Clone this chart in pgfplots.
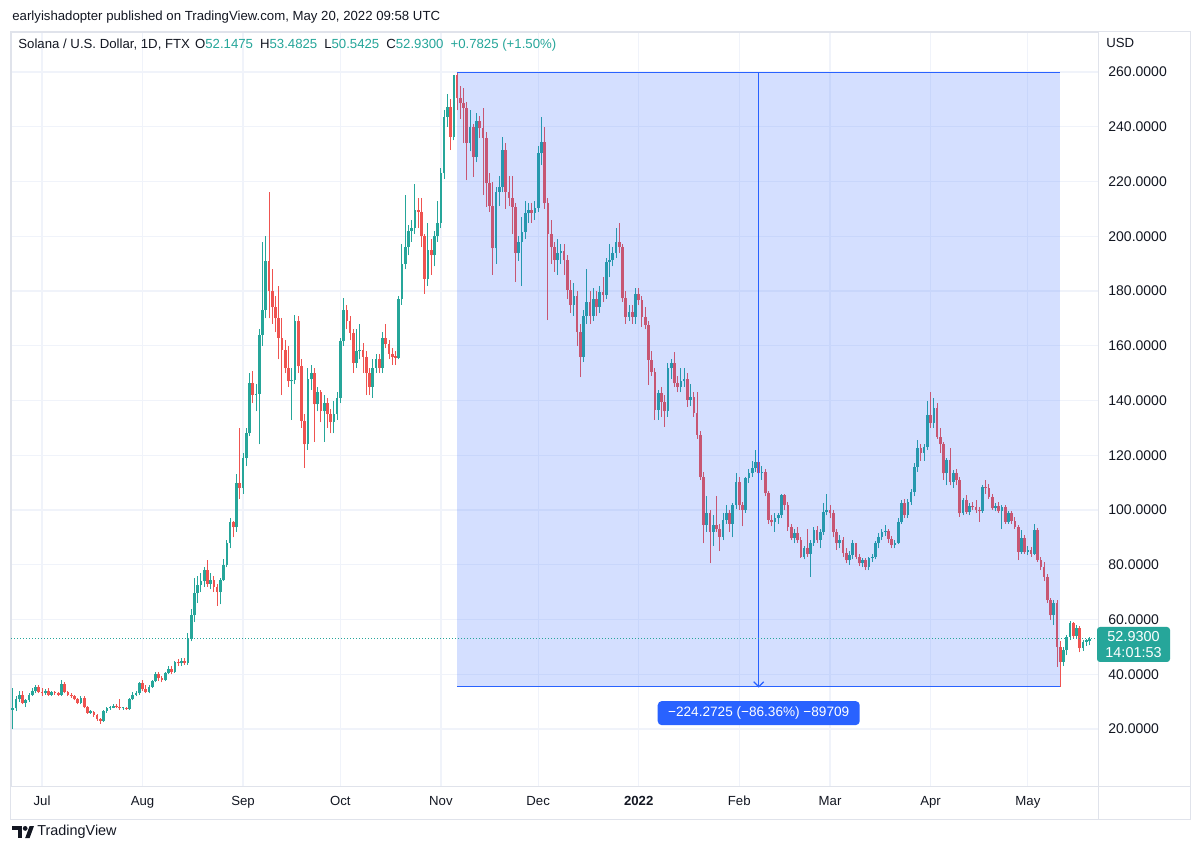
\documentclass[border=0pt]{standalone}
\usepackage{fontspec}
\setmainfont{Liberation Sans}
\usepackage{pgfplots}
\pgfplotsset{compat=1.18}
\usepackage{pgfplotstable}
\definecolor{upc}{HTML}{26A69A}
\definecolor{dnc}{HTML}{EF5350}
\definecolor{tvblue}{HTML}{2962FF}
\definecolor{gridc}{HTML}{F0F3FA}
\definecolor{borderc}{HTML}{E0E3EB}
\definecolor{txt}{HTML}{131722}

\pgfplotstableread{
d o h l c
-9 27 35 20 27.5
-8 27.5 32 26.5 31
-7 31 34 30 32.5
-6 32.5 34 29 29.5
-5 29.5 31 28 30.5
-4 30.5 33 30 32.5
-3 32.5 35 32 34
-2 34 36 33 35.5
-1 35.5 36 33 33.7
0 33.7 35 32 33
1 33 34.5 32.5 34
2 34 35 32 32.5
3 32.5 34 32 33.5
4 33.5 34 32.5 33
5 33 33.5 32 32.5
6 32.5 38 32 36.5
7 36.5 37 33 33.5
8 33.5 34 32 32.5
9 32.5 33 31.5 32
10 32 32.5 30.5 30.8
11 30.8 31.5 29 29.5
12 29.5 32 29 31.5
13 31.5 32 27.5 28
14 28 28.5 25.5 26
15 26 27 25.5 26.3
16 26.3 26.5 24.5 25
17 25 25.5 23 23.5
18 23.5 24 22 23
19 23 27 22.5 26.5
20 26.5 28 26 27.5
21 27.5 28.5 27 27.8
22 27.8 29 27.5 28.2
23 28.2 29 27.5 28
24 28 31 27 27.5
25 27.5 28 27 27.6
26 27.6 28 27 27.3
27 27.3 31.5 27 31
28 31 33.5 30.5 32.5
29 32.5 34 32 33
30 33 37 32.5 36.7
31 36.7 38 34 34.5
32 34.5 36 33 33.5
33 33.5 36 33 35.5
34 35.5 38 35 37.5
35 37.5 41 37 40
36 40 41 37.5 38.5
37 38.5 39.5 37 38
38 38 41 37.5 40.5
39 40.5 43 40 42
40 42 43 40 41
41 41 45 40.5 44.5
42 44.5 45.5 43 44
43 44 46 43 44.8
44 44.8 46 43.5 44
45 44 55 43.5 53
46 53 64 52 61.5
47 61.5 75 59 69.5
48 69.5 76 66 72.5
49 72.5 77 70 74
50 74 79 72 78
51 78 81.6 72 73
52 73 77 71 74.5
53 74.5 76 70 72
54 72 73 65 70
55 70 75 65.5 74.5
56 74.5 82 74 80
57 80 89 79 88
58 88 97 86 95.5
59 95.5 96 90 93.7
60 93.7 113 92 110
61 110 130 104 108
62 108 121 106 119
63 119 130 116 128
64 128 150 127 146.5
65 146.5 150.7 139 142
66 142 146 136 142.5
67 142.5 166 124 164
68 164 198 160 173
69 173 200 170 191
70 191 216 170 180
71 180 188 168 174
72 174 178 165 170
73 170 182 155 163
74 163 170 142 158.6
75 158.6 162 150 152
76 152 160 145 147
77 147 152 133 147.5
78 147.5 171.4 146 169
79 169 171 150 152.6
80 152.6 155 130 132.6
81 132.6 135 115.5 124
82 124 152 122 147.7
83 147.7 153 144 150
84 150 152 125 138.6
85 138.6 145 136 143
86 143 144 132 136
87 136 142 125 139
88 139 141 130 135
89 135 137 128 132
90 132 140 128 135
91 135 143 133 141
92 141 163 139 161.7
93 161.7 177.5 160 173
94 173 175 166 169
95 169 171 162 164.7
96 164.7 166 150 153.8
97 153.8 166 152 158
98 158 168 155 158.5
99 158.5 161 150 156
100 156 158 142 150
101 150 152 142 145
102 145 155 141 152
103 152 157 150 155
104 155 157 150 152
105 152 165 150 162.9
106 162.9 168 159 160.5
107 160.5 162 155 157
108 157 159 153 156
109 156 158 153 155.6
110 155.6 178 155 177
111 177 197 175 190
112 190 215 188 196
113 196 204 193 202
114 202 206 198 203
115 203 219 201 209.7
116 209.7 214 203 209
117 209 214 196 200
118 200 201 179 184.5
119 184.5 205 182 195
120 195 199 186 193
121 193 202 189 200
122 200 213 198 204.7
123 204.7 225 203 223
124 223 246 221 243.7
125 243.7 252 240 247.3
126 247.3 250 231.5 236.4
127 236.4 259 235 258.9
128 258.9 259.7 246 250.4
129 250.4 255 243 248.5
130 248.5 254 234 247
131 247 249 220.5 234
132 234 246 231 240
133 240 241 221.8 229
134 229 245 227 242
135 242 244 236 239.4
136 239.4 247 215 236
137 236 238 210.8 219.3
138 219.3 223 209 211
139 211 220 186 195.6
140 195.6 218 190 216.3
141 216.3 222 211 218.1
142 218.1 236.4 216 231.5
143 231.5 234 210 216.3
144 216.3 222 211 214
145 214 222 201 210.8
146 210.8 212 183.4 193.8
147 193.8 200 191 197.8
148 197.8 207 182 201.7
149 201.7 213 199 208.4
150 208.4 212 205 209.5
151 209.5 212 205 208.5
152 208.5 213 206 210.5
153 210.5 233 209 230.3
154 230.3 243.7 226 234.5
155 234.5 240 210 212
156 212 214 169.4 201
157 201 206 190 196
158 196 198 187 191.3
159 191.3 199 186 194
160 194 197 190 194.5
161 194.5 197 186 191.3
162 191.3 193 177 180.4
163 180.4 184 172 175
164 175 183 171 178
165 178 180 160 165
166 165 168 148.5 156
167 156 173 154 171
168 171 188 168 176
169 176 180 168 171
170 171 181 169 177
171 177 180 171 174.3
172 174.3 182 172 179.8
173 179.8 185 176 178.5
174 178.5 192 177 190.7
175 190.7 197 185 191.2
176 191.2 196 189 193.8
177 193.8 203 192 198
178 198 205 194 196
179 196 197 176 177.3
180 177.3 180 168 170.6
181 170.6 175 169 172.5
182 172.5 175 168 170.6
183 170.6 181 168 179
184 179 181 175 176.7
185 176.7 178 167 170.6
186 170.6 174 166 167.6
187 167.6 169 145.7 154.8
188 154.8 158 149 150.5
189 150.5 152 132.9 136.5
190 136.5 144 133 142.6
191 142.6 145 134 139.5
192 139.5 142 130.4 136
193 136 153.6 134 151.7
194 151.7 155 148 153.6
195 153.6 157.8 145 146.3
196 146.3 149 143 145
197 145 152 143 147
198 147 152 145 148
199 148 150 137.7 140.2
200 140.2 146 138 141.4
201 141.4 143 134 135.3
202 135.3 143 126 127.4
203 127.4 129 111 112.2
204 112.2 114 87.8 94.5
205 94.5 105 92 99
206 99 100 80.5 92
207 92 98 87 94.5
208 94.5 105 92 93
209 93 95 85 90.3
210 90.3 98.8 89 96.4
211 96.4 102 95 98.8
212 98.8 100 92 95
213 95 102.5 90 101.8
214 101.8 113.4 100.5 110.4
215 110.4 112 100 101.8
216 101.8 103 94 100
217 100 112 99 111.6
218 111.6 115 110 113.4
219 113.4 118 112 115.2
220 115.2 121.9 114 117.6
221 117.6 119 110 113.4
222 113.4 116 111 114
223 114 115 105 106.1
224 106.1 107 95 96.4
225 96.4 98 94 95.5
226 95.5 99 92 97
227 97 99 95 98
228 98 106 97 105.5
229 105.5 106 100 101.8
230 101.8 103 92.5 93.9
231 93.9 95 89 89.6
232 89.6 93 87.8 91.5
233 91.5 93.9 88 89
234 89 90 82.5 83
235 83 87 82 86
236 86 93 83 84
237 84 89 75.6 87.8
238 87.8 93.9 87 92.7
239 92.7 94 88 89
240 89 93 86 92
241 92 102.4 91 99.4
242 99.4 106 98 100
243 100 102 97 98.8
244 98.8 100 90 92
245 92 93 85.4 87.8
246 87.8 91 86 89
247 89 90 83 84.2
248 84.2 86 80.5 81.7
249 81.7 85 80 83.5
250 83.5 89 82 87.8
251 87.8 88 82 83
252 83 84 79.5 80.5
253 80.5 82.5 79 81.7
254 81.7 82.5 78 79.3
255 79.3 83 78 82.4
256 82.4 84 81 82.9
257 82.9 88.5 82 87.8
258 87.8 91.5 86 90.3
259 90.3 93 89 92
260 92 94.5 90.5 92.5
261 92.5 93 88 89.5
262 89.5 90.5 86 87.2
263 87.2 89 86 88
264 88 97 87.5 95.7
265 95.7 103.6 95 102.4
266 102.4 104 97 98.2
267 98.2 104 97 103
268 103 107.5 102 106.7
269 106.7 117 105 115.8
270 115.8 125.5 114 122.5
271 122.5 124 118 121
272 121 124 118 123
273 123 140 122 134.7
274 134.7 143.2 130 131.6
275 131.6 141 130 137.1
276 137.1 139 126 126.8
277 126.8 130 121 124
278 124 125 111 113.4
279 113.4 119 109 118.3
280 118.3 122.5 109 110.3
281 110.3 114.5 108 113.4
282 113.4 115 109 111
283 111 112 97.5 98.8
284 98.8 104.5 98 103.6
285 103.6 105.5 98.5 99.4
286 99.4 102.5 98 101.5
287 101.5 103 100 101
288 101 103.6 99 100
289 100 101 95.7 99.5
290 99.5 109 99 108.5
291 108.5 111 106 108
292 108 109.5 104 104.9
293 104.9 106 100 100.6
294 100.6 102.5 99.5 101.5
295 101.5 103 99 99.5
296 99.5 102 93 101.2
297 101.2 102 95 95.7
298 95.7 99.5 95 98.8
299 98.8 99.5 95 96
300 96 97.5 93 93.9
301 93.9 94.5 81.7 84.8
302 84.8 92.7 84 89.6
303 89.6 91 84 84.8
304 84.8 87 83.5 85.5
305 85.5 86.5 83 84
306 84 95 83.5 92.7
307 92.7 93.5 81 81.7
308 81.7 83 78 79.3
309 79.3 81 74 75.6
310 75.6 76.5 66 67.2
311 67.2 68 60 61.6
312 61.6 67 58 66
313 66 67 42.8 50.1
314 50.1 52 35.4 44.6
315 44.6 50 43 48.9
316 48.9 54.5 47 53.7
317 53.7 59.5 52.5 58.6
318 58.6 59 53 54
319 54 58 53 56.8
320 56.8 57.5 48 49.5
321 49.5 52.5 48.5 51.9
322 51.9 53 50.5 52.15
323 52.1475 53.4825 50.5425 52.93
}\sol

\begin{document}
\begin{tikzpicture}
\path[use as bounding box, fill=white] (0,0) rectangle (600pt,426pt);
\draw[borderc, line width=0.5pt] (5pt,410pt) rectangle (595pt,16.5pt);
\draw[borderc, line width=0.5pt] (549pt,410pt) -- (549pt,16.5pt);
\draw[borderc, line width=0.5pt] (5pt,33pt) -- (595pt,33pt);
\begin{axis}[
  at={(5.5pt,33pt)}, anchor=south west, scale only axis,
  width=543.5pt, height=376.5pt,
  xmin=-9.56, xmax=325.62, ymin=-0.82, ymax=274.25,
  axis line style={draw=borderc, line width=0.5pt},
  xtick={0,31,62,92,123,153,184,215,243,274,304},
  xticklabels={Jul,Aug,Sep,Oct,Nov,Dec,\textbf{2022},Feb,Mar,Apr,May},
  ytick={20,40,...,260},
  yticklabel pos=right,
  yticklabel={\pgfmathprintnumber[fixed,fixed zerofill,precision=4]{\tick}},
  /pgf/number format/assume math mode=true,
  major tick length=0pt,
  grid=major, major grid style={draw=gridc, line width=0.6pt},
  tick label style={font=\fontsize{6.6}{8}\selectfont, text=txt},
  xticklabel style={anchor=base, yshift=-9.5pt, inner sep=0pt},
  yticklabel style={anchor=west, inner sep=0pt, xshift=5pt, font=\fontsize{7}{8}\selectfont},
  unbounded coords=discard,
  candle/.style={draw=none, mark=none, forget plot},
]
% up wicks
\addplot[candle,
  restrict expr to domain={\thisrow{c}-\thisrow{o}}{0:1000},
  error bars/.cd, y dir=plus, y explicit, error mark=none,
  error bar style={line width=0.5pt, draw=upc}]
  table[x=d, y=l, y error expr={\thisrow{h}-\thisrow{l}}] {\sol};
% down wicks
\addplot[candle,
  restrict expr to domain={\thisrow{c}-\thisrow{o}}{-1000:-0.00001},
  error bars/.cd, y dir=plus, y explicit, error mark=none,
  error bar style={line width=0.5pt, draw=dnc}]
  table[x=d, y=l, y error expr={\thisrow{h}-\thisrow{l}}] {\sol};
% up bodies
\addplot[candle,
  restrict expr to domain={\thisrow{c}-\thisrow{o}}{0:1000},
  error bars/.cd, y dir=plus, y explicit, error mark=none,
  error bar style={line width=1.35pt, draw=upc}]
  table[x=d, y=o, y error expr={max(\thisrow{c}-\thisrow{o},0.5)}] {\sol};
% down bodies
\addplot[candle,
  restrict expr to domain={\thisrow{c}-\thisrow{o}}{-1000:-0.00001},
  error bars/.cd, y dir=plus, y explicit, error mark=none,
  error bar style={line width=1.35pt, draw=dnc}]
  table[x=d, y=c, y error expr={max(\thisrow{o}-\thisrow{c},0.5)}] {\sol};
% measurement overlay
\fill[tvblue, fill opacity=0.2] (axis cs:128,35.43) rectangle (axis cs:314,259.7);
\draw[tvblue, line width=0.6pt] (axis cs:128,259.7) -- (axis cs:314,259.7);
\draw[tvblue, line width=0.6pt] (axis cs:128,35.43) -- (axis cs:314,35.43);
\draw[tvblue, line width=0.6pt] (axis cs:221,259.7) -- (axis cs:221,35.43);
\draw[tvblue, line width=0.6pt] ([xshift=-2.5pt,yshift=2.5pt]axis cs:221,35.43) -- (axis cs:221,35.43) -- ([xshift=2.5pt,yshift=2.5pt]axis cs:221,35.43);
\draw[upc, line width=0.5pt, dash pattern=on 0.5pt off 1pt] (axis cs:-9.56,52.93) -- (axis cs:325.62,52.93);
\node[fill=tvblue, rounded corners=2pt, text=white, minimum width=101pt, minimum height=12pt, inner sep=0pt, font=\fontsize{6.8}{8}\selectfont] at (axis cs:221,25.8) {−224.2725 (−86.36\%) −89709};
\end{axis}
% header / legend
\node[anchor=west, inner sep=0pt, font=\fontsize{6.6}{8}\selectfont, text=txt] at (6pt,417.5pt) {earlyishadopter published on TradingView.com, May 20, 2022 09:58 UTC};
\node[anchor=west, inner sep=0pt, font=\fontsize{6.6}{8}\selectfont, text=txt] at (9pt,403.5pt) {Solana / U.S. Dollar, 1D, FTX\hspace{2.5pt}O\textcolor{upc}{52.1475}\hspace{3.5pt}H\textcolor{upc}{53.4825}\hspace{3.5pt}L\textcolor{upc}{50.5425}\hspace{3.5pt}C\textcolor{upc}{52.9300}\hspace{3.5pt}\textcolor{upc}{+0.7825 (+1.50\%)}};
\node[anchor=west, inner sep=0pt, font=\fontsize{6.6}{8}\selectfont, text=txt] at (553pt,404.5pt) {USD};
% last price label
\fill[upc, rounded corners=1.5pt] (548.5pt,95pt) rectangle (585pt,112.5pt);
\node[text=white, inner sep=0pt, font=\fontsize{7.2}{8}\selectfont] at (566.75pt,107.5pt) {52.9300};
\node[text=white, inner sep=0pt, font=\fontsize{7.2}{8}\selectfont] at (566.75pt,99.5pt) {14:01:53};
% footer logo
\fill[txt] (6pt,13pt) rectangle (10.8pt,11pt);
\fill[txt] (8.8pt,13pt) rectangle (10.8pt,7pt);
\fill[txt] (12.6pt,11.8pt) circle (1.2pt);
\fill[txt] (12.6pt,7pt) -- (14.8pt,7pt) -- (17pt,13pt) -- (14.8pt,13pt) -- cycle;
\node[anchor=west, inner sep=0pt, font=\fontsize{7.2}{8}\selectfont, text=txt] at (18.5pt,10pt) {TradingView};
\end{tikzpicture}
\end{document}
